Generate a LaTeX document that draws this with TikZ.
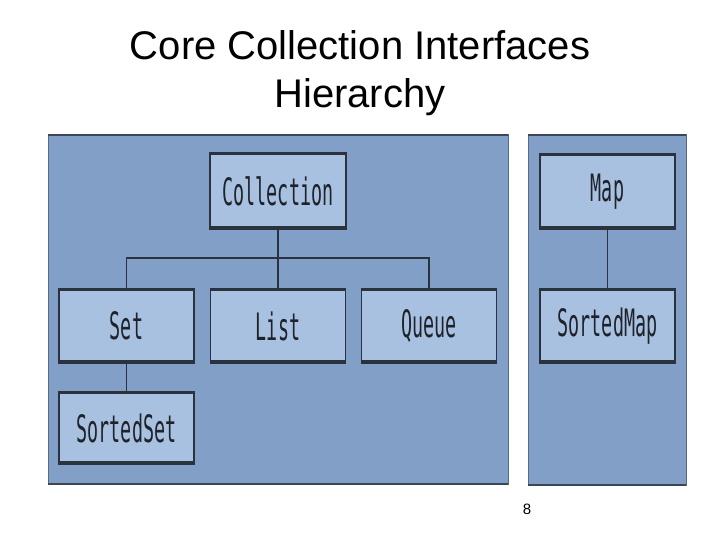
\documentclass[tikz,border=0pt]{standalone}
\usepackage{fontspec}
\setmainfont{Liberation Sans}
\newfontfamily\boxfamily{DejaVu Sans Mono}
\newcommand{\btxt}[1]{\scalebox{1.0}[2.05]{\boxfamily\fontsize{18.4}{20}\selectfont #1}}
\definecolor{panelfill}{HTML}{819FC7}
\definecolor{panelline}{HTML}{3C4656}
\definecolor{boxfill}{HTML}{A9C1E0}
\definecolor{boxline}{HTML}{2A323D}
\definecolor{boxtext}{HTML}{1E232B}
\tikzset{
  ibox/.style={draw=boxline, line width=1.6pt, fill=boxfill, minimum width=135pt,
    minimum height=72pt, inner sep=0pt, text=boxtext},
  panel/.style={fill=panelfill, draw=panelline!60!panelfill, line width=1pt},
  panetop/.style={draw=panelline, line width=2pt},
  shadowline/.style={draw=boxline, line width=3.5pt},
  conn/.style={draw=boxline, line width=1.6pt},
  title/.style={font=\fontsize{40}{48}\selectfont, anchor=base}
}
\begin{document}
\begin{tikzpicture}[x=1pt,y=-1pt]
\useasboundingbox (0,0) rectangle (720,540);
\fill[white] (0,0) rectangle (720,540);
% title
\node[title] (t1) at (360,60) {Core Collection Interfaces};
\node[title] (t2) at (360,108) {Hierarchy};
% panels
\path[panel] (48,135) rectangle (508,484);
\draw[panetop] (48,135) -- (508,135);
\draw[panetop] (48,484) -- (508,484);
\path[panel] (528,135) rectangle (686,485);
\draw[panetop] (528,135) -- (686,135);
\draw[panetop] (528,485) -- (686,485);
\coordinate (bus) at (278,258);
% boxes
\node[ibox, minimum height=74pt, minimum width=136pt] (col) at (278,191) {\btxt{Collection}};
\node[ibox] (set) at (126.5,326) {\btxt{Set}};
\node[ibox] (list) at (278,326) {\btxt{List}};
\node[ibox] (queue) at (429,326) {\btxt{Queue}};
\node[ibox, minimum height=70pt] (sset) at (126.5,428) {\btxt{SortedSet}};
\node[ibox, minimum height=73pt] (map) at (607.5,191.5) {\btxt{Map}};
\node[ibox] (smap) at (607.5,326) {\btxt{SortedMap}};
\foreach \n in {col,set,list,queue,sset,map,smap}{
  \draw[shadowline] ([yshift=1pt]\n.south west) -- ([yshift=1pt]\n.south east);
  \draw[draw=boxline, line width=2.4pt] (\n.north west) -- (\n.north east);
}
\draw[conn] (col.south) -- (bus);
\draw[conn] (set.north) |- (bus) -| (queue.north);
\draw[conn] (bus) -- (list.north);
\draw[conn] (set.south) -- (sset.north);
\draw[conn] (map.south) -- (smap.north);
% page number
\node[font=\fontsize{15}{18}\selectfont, anchor=base] (pg) at (527,514) {8};
\end{tikzpicture}
\end{document}
